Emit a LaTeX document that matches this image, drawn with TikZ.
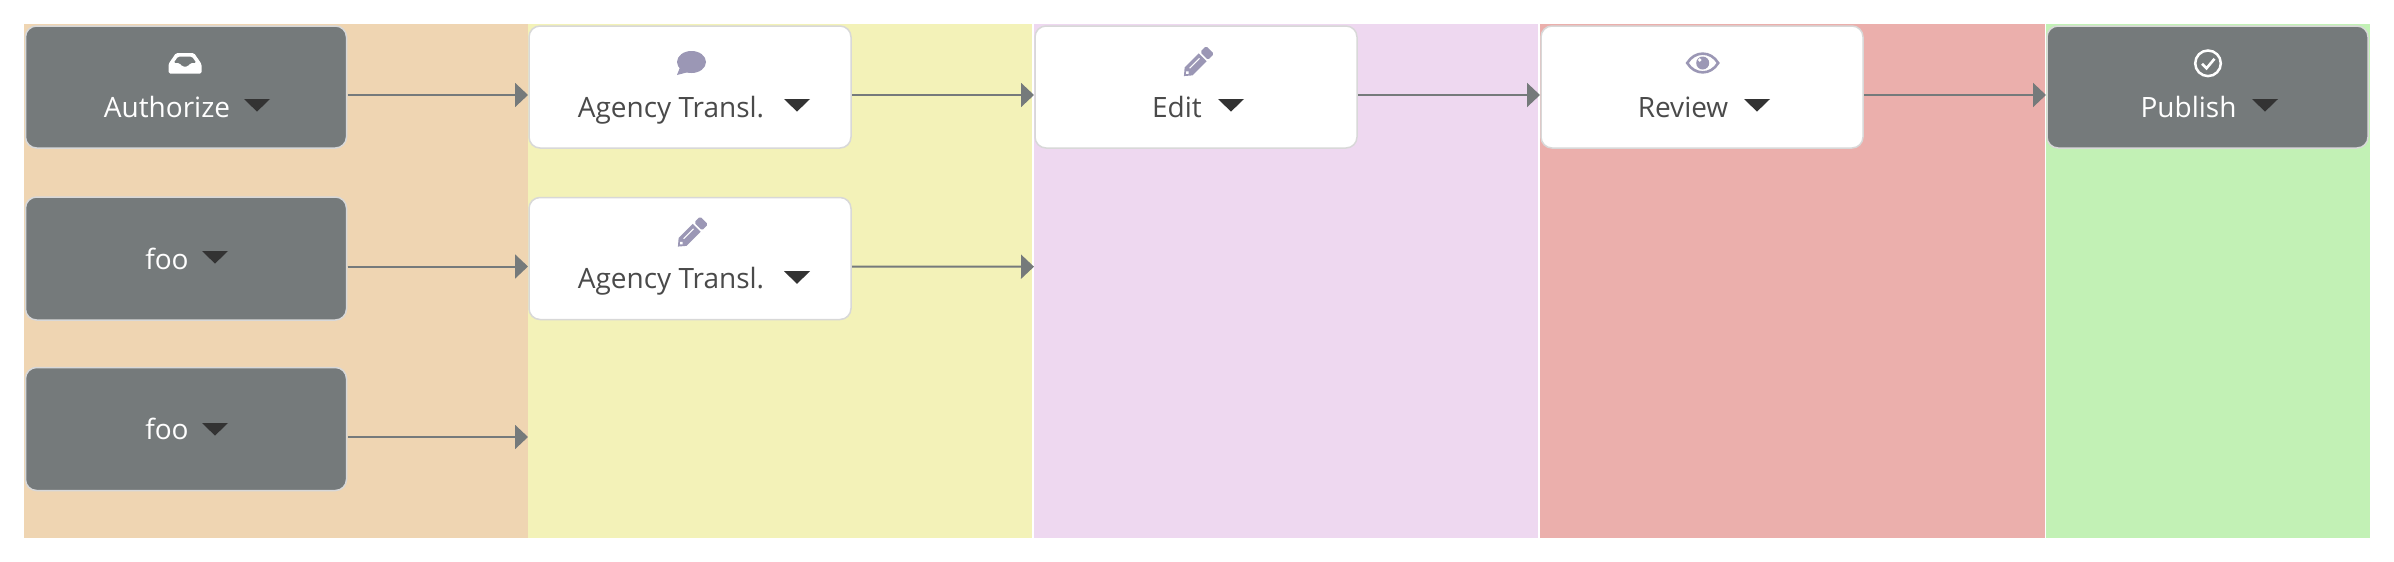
\documentclass[tikz,border=0pt]{standalone}
\usepackage{fontspec}
\setmainfont{Open Sans}
\usetikzlibrary{arrows.meta}
\definecolor{laneorange}{HTML}{EFD5B2}
\definecolor{laneyellow}{HTML}{F3F2B8}
\definecolor{lanepurple}{HTML}{EED8F0}
\definecolor{lanered}{HTML}{EBAFAC}
\definecolor{lanegreen}{HTML}{C2F1B5}
\definecolor{carddark}{HTML}{757A7B}
\definecolor{cardedge}{HTML}{D8D8D8}
\definecolor{icontone}{HTML}{9B97B5}
\definecolor{labeltone}{HTML}{4A4A4A}
\definecolor{carettone}{HTML}{333333}
\tikzset{
  >={Triangle[length=13pt,width=24pt]},
  card/.style={draw=cardedge,line width=1.5pt,rounded corners=11pt,minimum width=321pt,
    inner sep=0pt,outer sep=1pt,font=\fontsize{28}{30}\selectfont},
  cardlight/.style={card,minimum width=322pt,fill=white,text=labeltone},
  cardgrey/.style={card,fill=carddark,text=white},
  withicon/.style={text height=91pt,text depth=31pt},
  noicon/.style={text height=72pt,text depth=51pt},
  flow/.style={->,draw=carddark,fill=carddark,line width=2pt},
  caret/.pic={\fill[carettone] (-13,-6.3) -- (13,-6.3) -- (0,6.3) -- cycle;},
  inboxicon/.pic={\fill[white,even odd rule,rounded corners=1.5pt]
    (-9,-10) -- (9,-10) -- (16.5,1) -- (16.5,10.5) -- (-16.5,10.5) -- (-16.5,1) -- cycle
    (-7,-6.5) -- (7,-6.5) -- (11.5,0) -- (5.5,0) -- (3,3.5) -- (-3,3.5) -- (-5.5,0) -- (-11.5,0) -- cycle;},
  bubbleicon/.pic={\fill[icontone] (0,0) ellipse [x radius=14.5pt,y radius=11pt];
    \fill[icontone] (-11,4) -- (-14.5,13) -- (-3,10) -- cycle;},
  pencilicon/.pic={
    \begin{scope}[rotate=45]
    \fill[icontone] (-18.5,0) -- (-12,-5.5) -- (8,-5.5) -- (8,5.5) -- (-12,5.5) -- cycle;
    \fill[icontone,rounded corners=1.5pt] (10,-5.5) -- (18.5,-5.5) -- (18.5,5.5) -- (10,5.5) -- cycle;
    \draw[white,line width=1.2pt] (-9,-1.5) -- (5,-1.5);
    \fill[white] (-13.5,0) circle (1.8pt);
    \end{scope}},
  eyeicon/.pic={\draw[icontone,line width=2.6pt] (-15.5,0) .. controls (-8,-12.5) and (8,-12.5) .. (15.5,0)
      .. controls (8,12.5) and (-8,12.5) .. cycle;
    \fill[icontone] (0,0) circle (6.5pt);
    \fill[white] (-3,-3) circle (1.8pt);},
  checkicon/.pic={\draw[white,line width=2.5pt] (0,0) circle (12.8pt);
    \draw[white,line width=2.6pt] (-6,0.5) -- (-1.5,5) -- (6.5,-4.5);}
}
\begin{document}
\begin{tikzpicture}[x=1pt,y=-1pt]
\useasboundingbox (0,0) rectangle (2394,562);
% lanes
\fill[laneorange] (24,24) rectangle (528,538);
\fill[laneyellow] (528,24) rectangle (1032,538);
\fill[lanepurple] (1034,24) rectangle (1538,538);
\fill[lanered] (1540,24) rectangle (2044.5,538);
\fill[lanegreen] (2046,24) rectangle (2370,538);
% cards
\node[cardgrey,withicon] (authorize) at (186,87) {Authorize\kern38pt};
\node[cardgrey,noicon] (foofirst) at (186,258.5) {foo\kern38pt};
\node[cardgrey,noicon] (foosecond) at (186,429) {foo\kern38pt};
\node[cardlight,withicon] (agencyfirst) at (690,87) {Agency Transl.\kern38pt};
\node[cardlight,withicon] (agencysecond) at (690,258.5) {Agency Transl.\kern38pt};
\node[cardlight,withicon] (edit) at (1196,87) {Edit\kern38pt};
\node[cardlight,withicon] (review) at (1702,87) {Review\kern38pt};
\node[cardgrey,withicon] (publish) at (2207.5,87) {Publish\kern38pt};
\coordinate (laneyellowin) at (528,437);
\coordinate (lanepurplein) at (1034,266.7);
% connectors
\draw[flow] ([yshift=-8pt]authorize.east) -- ([yshift=-8pt]agencyfirst.west);
\draw[flow] ([yshift=-8pt]foofirst.east) -- ([yshift=-8pt]agencysecond.west);
\draw[flow] ([yshift=-8pt]foosecond.east) -- (laneyellowin);
\draw[flow] ([yshift=-8pt]agencyfirst.east) -- ([yshift=-8pt]edit.west);
\draw[flow] ([yshift=-8pt]agencysecond.east) -- (lanepurplein);
\draw[flow] ([yshift=-8pt]edit.east) -- ([yshift=-8pt]review.west);
\draw[flow] ([yshift=-8pt]review.east) -- ([yshift=-8pt]publish.west);
% icons
\pic at (185,63) {inboxicon};
\pic at (691.5,62) {bubbleicon};
\pic at (691,233.5) {pencilicon};
\pic at (1197,63) {pencilicon};
\pic at (1702.7,63) {eyeicon};
\pic at (2208,63.3) {checkicon};
% carets
\pic at (257,105.3) {caret};
\pic at (215,257.3) {caret};
\pic at (215,429.3) {caret};
\pic at (797,105.3) {caret};
\pic at (797,277.5) {caret};
\pic at (1231,105.3) {caret};
\pic at (1757,105.3) {caret};
\pic at (2265,105.3) {caret};
\end{tikzpicture}
\end{document}
